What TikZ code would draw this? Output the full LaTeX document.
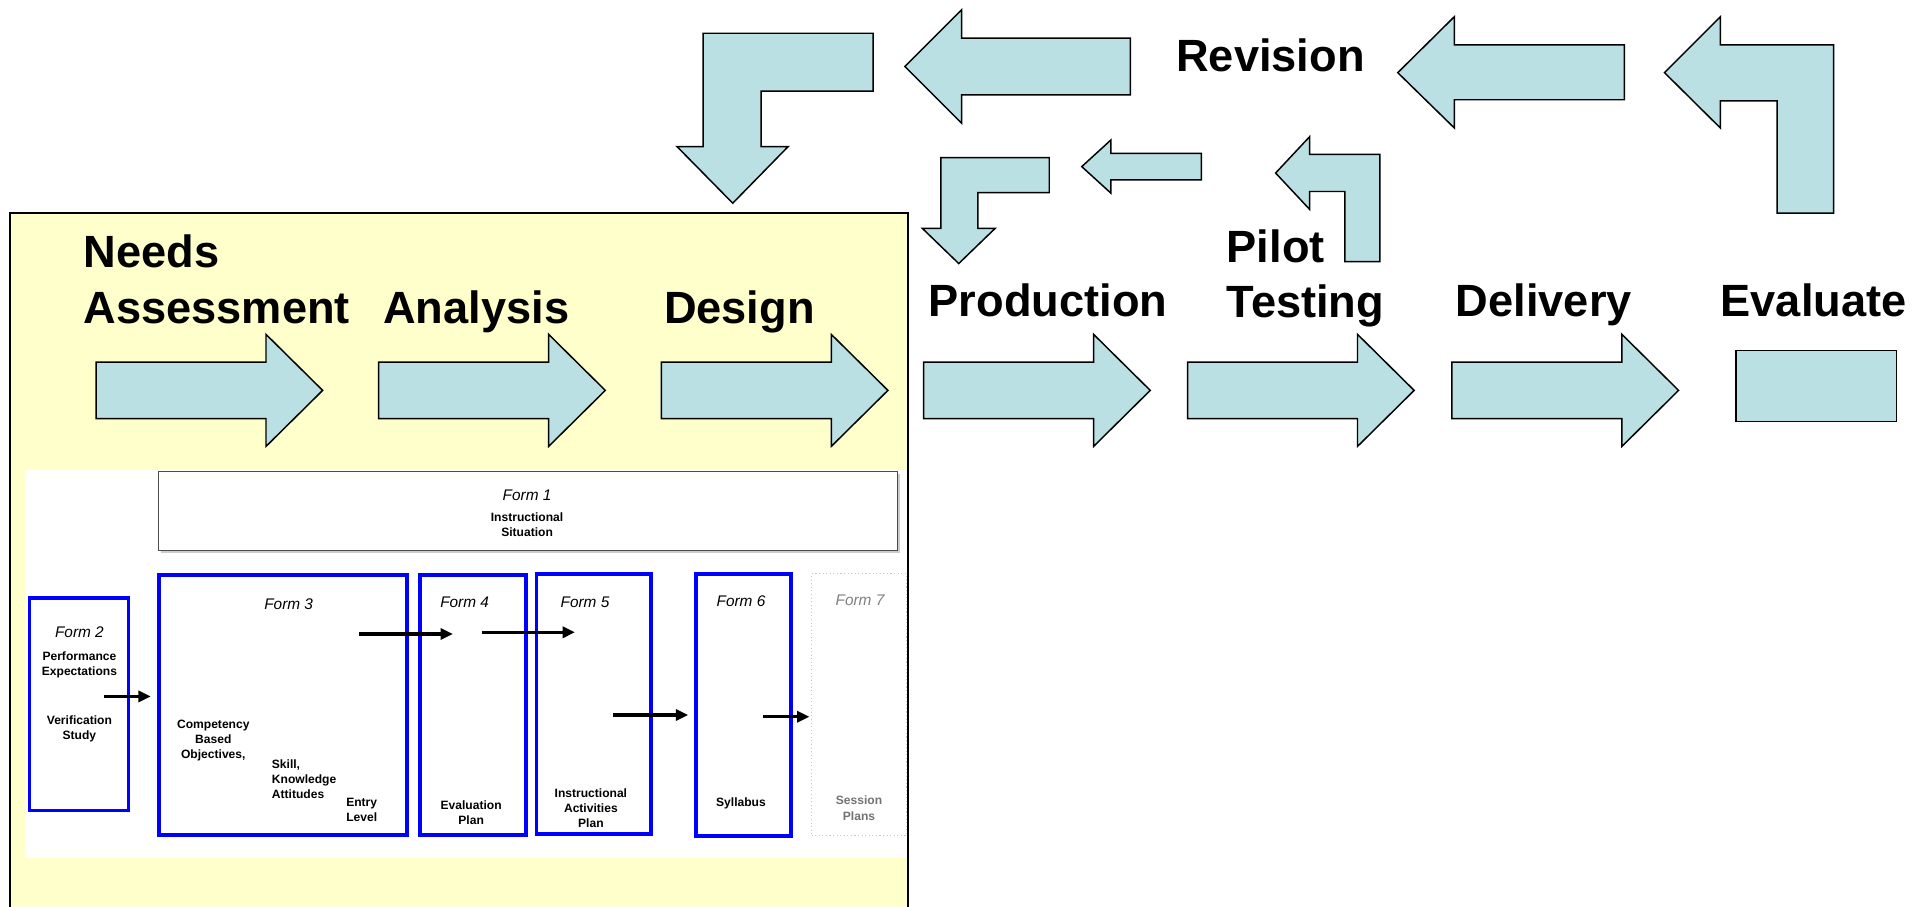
\documentclass[tikz,border=0pt]{standalone}
\usepackage{fontspec}
\setmainfont{Liberation Sans}
\usetikzlibrary{arrows.meta,fit}
\definecolor{flowfill}{RGB}{186,224,227}
\definecolor{panelyellow}{RGB}{255,255,204}
\definecolor{formblue}{RGB}{0,0,255}
\tikzset{
  blockarrow/.style={draw=black, line width=1.2pt, fill=flowfill, line join=miter},
  stage/.style={inner sep=0pt, anchor=base west, align=left,
    font=\fontsize{36.7}{45}\selectfont\bfseries},
  formbox/.style={draw=formblue, line width=2.9pt, inner sep=0pt},
  formtitle/.style={inner sep=0pt, anchor=base, font=\fontsize{12.5}{15}\selectfont\itshape},
  formtext/.style={inner sep=0pt, anchor=base, align=center,
    font=\fontsize{9.8}{12.3}\selectfont\bfseries},
  feed/.style={line width=2.6pt, -{Triangle[length=10pt,width=9pt]}},
}
\begin{document}
\begin{tikzpicture}[x=1pt,y=-1pt]
\useasboundingbox (0,0) rectangle (1568,736);
\clip (0,0) rectangle (1568,736);

% panel holding the first three phases
\fill[panelyellow] (8,173) rectangle (737.5,760);
\fill[white] (20.5,382) rectangle (737.5,697);
\draw[line width=1.3pt] (8,760) -- (8,173) -- (737.5,173) -- (737.5,760);

% forward flow
\foreach \L in {78,307.5,537,750,964.3,1179}
  \draw[blockarrow] (\L,294) -- ++(138,0) -- ++(0,-22.5) -- ++(46,45.5)
    -- ++(-46,45.5) -- ++(0,-22.5) -- ++(-138,0) -- cycle;
\draw[blockarrow] (1409.7,284.8) rectangle (1540,342.4);

% revision loop, outer
\draw[blockarrow] (1351.6,59) -- (1397,13.5) -- (1397,36.5) -- (1489,36.5) -- (1489,173)
  -- (1443,173) -- (1443,82) -- (1397,82) -- (1397,104) -- cycle;
\draw[blockarrow] (1135,59) -- (1181,13.5) -- (1181,36.5) -- (1319,36.5) -- (1319,81)
  -- (1181,81) -- (1181,104) -- cycle;
\draw[blockarrow] (734.7,54) -- (780.8,8) -- (780.8,31) -- (917.8,31) -- (917.8,77)
  -- (780.8,77) -- (780.8,100) -- cycle;
\draw[blockarrow] (571,27) -- (709,27) -- (709,74) -- (618,74) -- (618,119) -- (640,119)
  -- (595,165) -- (549.7,119) -- (571,119) -- cycle;

% revision loop, inner
\draw[blockarrow] (1035.8,140.5) -- (1063.4,111) -- (1063.4,125.3) -- (1120.5,125.3)
  -- (1120.5,212.5) -- (1092,212.5) -- (1092,155.5) -- (1063.4,155.5) -- (1063.4,170) -- cycle;
\draw[blockarrow] (878.4,135.3) -- (902,113.7) -- (902,124.5) -- (975.6,124.5) -- (975.6,146)
  -- (902,146) -- (902,156.8) -- cycle;
\draw[blockarrow] (764,128) -- (852,128) -- (852,156.5) -- (794,156.5) -- (794,185.5)
  -- (808,185.5) -- (778.5,214) -- (749,185.5) -- (764,185.5) -- cycle;

% phase labels
\node[stage] (needs) at (67.7,262.5) {Needs\\Assessment};
\node[stage] (analysis) at (311,262.5) {Analysis};
\node[stage] (design) at (539,262.5) {Design};
\node[stage] (production) at (754,257.2) {Production};
\node[stage] (pilot) at (996,258) {Pilot\\Testing};
\node[stage] (delivery) at (1182,257.2) {Delivery};
\node[stage] (evaluate) at (1397,257.2) {Evaluate};
\node[stage] (revision) at (955,58.2) {Revision};

% forms
\fill[gray!40] (130.6,385) rectangle (731,449.2);
\node[draw=black!70, fill=white, line width=1pt, inner sep=0pt,
  fit={(128.6,383) (729,447.2)}] (f1) {};
\node[formbox, fit={(24,485.5) (104.5,658)}] (f2) {};
\node[formbox, fit={(129,467) (330.5,678)}] (f3) {};
\node[formbox, fit={(341,467) (427,678)}] (f4) {};
\node[formbox, fit={(435.5,466) (528.5,677)}] (f5) {};
\node[formbox, fit={(565,466) (642.5,679)}] (f6) {};
\node[draw=gray!45, dotted, line width=0.9pt, inner sep=0pt,
  fit={(659,466) (736,678.5)}] (f7) {};

\node[formtitle] (t1) at (428,406.2) {Form 1};
\node[formtext] (s1) at (428,435.7) {Instructional\\Situation};

\node[formtitle] (t2) at (64.5,517.8) {Form 2};
\node[formtext] (s2a) at (64.5,548.4) {Performance\\Expectations};
\node[formtext] (s2b) at (64.5,600.4) {Verification\\Study};

\node[formtitle] (t3) at (234.4,495) {Form 3};
\node[formtext] (s3a) at (173.2,615.8) {Competency\\Based\\Objectives,};
\node[formtext, align=left, anchor=base west] (s3b) at (220.6,648.3) {Skill,\\Knowledge\\Attitudes};
\node[formtext, align=left, anchor=base west] (s3c) at (281,667.2) {Entry\\Level};

\node[formtitle] (t4) at (377.3,493.2) {Form 4};
\node[formtext] (s4) at (382.6,669.3) {Evaluation\\Plan};

\node[formtitle] (t5) at (475,493.2) {Form 5};
\node[formtext] (s5) at (479.8,672) {Instructional\\Activities\\Plan};

\node[formtitle] (t6) at (601.7,492.2) {Form 6};
\node[formtext] (s6) at (601.7,655.2) {Syllabus};

\node[formtitle, text=black!50] (t7) at (698.3,491.3) {Form 7};
\node[formtext, text=black!55] (s7) at (697.5,665.9) {Session\\Plans};

% hand-offs between forms
\coordinate (a1s) at (84.4,565.5);  \coordinate (a1e) at (122.4,565.5);
\coordinate (a2s) at (291.6,514.8); \coordinate (a2e) at (367.8,514.8);
\coordinate (a3s) at (391.6,513.4); \coordinate (a3e) at (466.9,513.4);
\coordinate (a4s) at (497.9,580.6); \coordinate (a4e) at (558.8,580.6);
\coordinate (a5s) at (619.3,582);   \coordinate (a5e) at (657.2,582);
\draw[feed] (a1s) -- (a1e);
\draw[feed] (a2s) -- (a2e);
\draw[feed] (a3s) -- (a3e);
\draw[feed] (a4s) -- (a4e);
\draw[feed] (a5s) -- (a5e);
\end{tikzpicture}
\end{document}
